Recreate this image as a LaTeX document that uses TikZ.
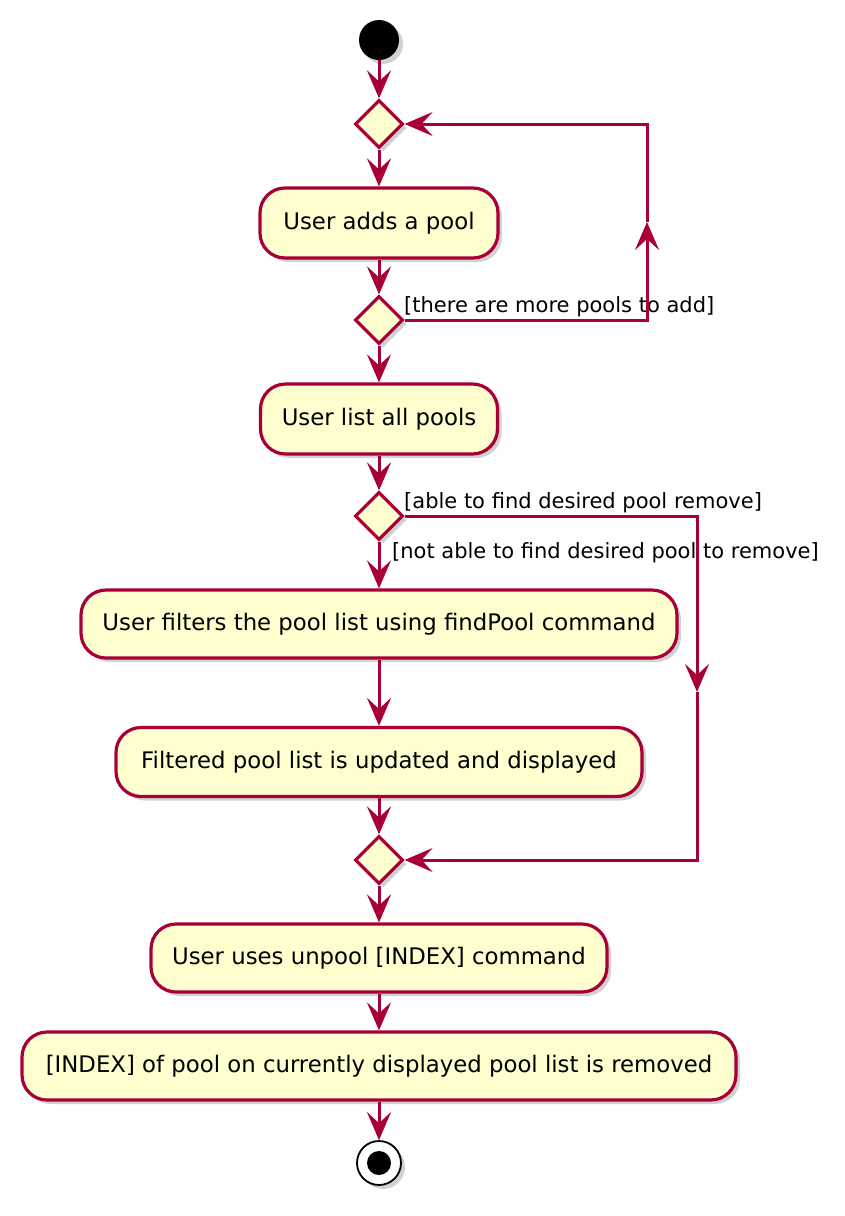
\documentclass[tikz,border=0pt]{standalone}
\usepackage{fontspec}
\setmainfont{DejaVu Sans}
\usetikzlibrary{arrows.meta,shapes.geometric,shadows}
\definecolor{umlred}{HTML}{A80036}
\definecolor{umlfill}{HTML}{FEFECE}
\tikzset{
  shad/.style={drop shadow={opacity=0.3,shadow xshift=4pt,shadow yshift=-4pt,fill=black!60}},
  actbox/.style={draw=umlred,fill=umlfill,line width=3.2pt,rounded corners=25pt,inner sep=0pt,font=\fontsize{22.8}{27}\selectfont,shad},
  decis/.style={diamond,aspect=1,draw=umlred,fill=umlfill,line width=3.2pt,inner sep=0pt,minimum size=48pt,shad},
  flow/.style={draw=umlred,line width=3pt,-{Stealth[length=28pt,width=24pt,inset=11pt]}},
  guard/.style={anchor=west,inner sep=0pt,font=\fontsize{21}{25}\selectfont}
}
\begin{document}
\begin{tikzpicture}[x=1pt,y=-1pt]
\useasboundingbox (0,0) rectangle (845,1216);
\node[circle,fill=black,minimum size=40pt,inner sep=0pt,shad] (start) at (379,40) {};
\node[decis] (d1) at (379,124) {};
\node[actbox,minimum width=238pt,minimum height=70pt] (a1) at (379,223) {User adds a pool};
\node[decis] (d2) at (379,320) {};
\node[actbox,minimum width=237pt,minimum height=70pt] (a2) at (379,419) {User list all pools};
\node[decis] (d3) at (379,516) {};
\node[actbox,minimum width=596pt,minimum height=68pt] (a3) at (379,624) {User filters the pool list using findPool command};
\node[actbox,minimum width=526pt,minimum height=69pt] (a4) at (379,762) {Filtered pool list is updated and displayed};
\node[decis] (d4) at (379,860) {};
\node[actbox,minimum width=456pt,minimum height=68pt] (a5) at (379,958) {User uses unpool [INDEX] command};
\node[actbox,minimum width=714pt,minimum height=68pt] (a6) at (379,1066) {[INDEX] of pool on currently displayed pool list is removed};
\node[circle,draw=black,fill=white,line width=1.8pt,minimum size=44pt,inner sep=0pt,shad] (endo) at (379,1163) {};
\node[circle,fill=black,minimum size=24pt,inner sep=0pt] (endi) at (endo) {};

\node[guard] (g1) at (404,307) {[there are more pools to add]};
\node[guard] (g2) at (404,503) {[able to find desired pool remove]};
\node[guard] (g3) at (392,553) {[not able to find desired pool to remove]};

\coordinate (c1) at (647,320);
\coordinate (m1) at (647,222);
\coordinate (c2) at (647,124);
\coordinate (c3) at (697,516);
\coordinate (m2) at (697,692);
\coordinate (c4) at (697,860);

\draw[flow] (start) -- (d1);
\draw[flow] (d1) -- (a1);
\draw[flow] (a1) -- (d2);
\draw[flow] (d2) -- (a2);
\draw[flow] (a2) -- (d3);
\draw[flow] (d3) -- (a3);
\draw[flow] (a3) -- (a4);
\draw[flow] (a4) -- (d4);
\draw[flow] (d4) -- (a5);
\draw[flow] (a5) -- (a6);
\draw[flow] (a6) -- (endo);

\draw[flow] (d2.east) -- (c1) -- (m1);
\draw[flow] (m1) -- (c2) -- (d1.east);
\draw[flow] (d3.east) -- (c3) -- (m2);
\draw[flow] (m2) -- (c4) -- (d4.east);
\end{tikzpicture}
\end{document}
